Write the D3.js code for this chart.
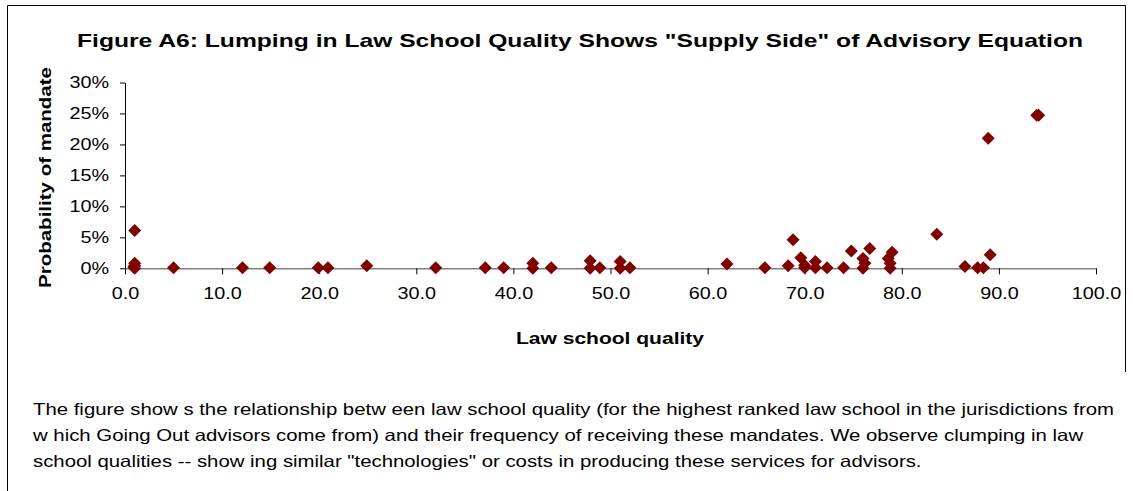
<!DOCTYPE html>
<html>
<head>
<meta charset="utf-8">
<script src="https://cdn.jsdelivr.net/npm/d3@7"></script>
<style>
  html, body { margin: 0; padding: 0; background: #fff; }
  svg { display: block; font-family: Arial, "Liberation Sans", sans-serif; }
</style>
</head>
<body>
<svg id="chart" width="1133" height="491"></svg>
<script>
// Law school quality score of each advisor jurisdiction
const quality = [
  1.0, 1.0, 1.0, 1.0, 0.9, 5.0, 12.1, 14.9, 19.9, 20.9, 24.9,
  32.0, 37.1, 39.0, 42.0, 42.0, 43.9, 47.9, 47.9, 48.9, 51.0, 51.0, 52.0,
  62.0, 65.9, 68.3, 68.8, 69.6, 70.0, 70.0, 71.1, 71.1, 72.3, 74.0, 74.8,
  76.0, 76.0, 76.2, 76.7, 78.6, 78.8, 78.8, 79.0,
  83.6, 86.5, 87.8, 88.4, 88.9, 89.1, 93.9, 94.1
];
// Probability of receiving a mandate (percent)
const probability = [
  6.1, 0.8, 0.4, 0.0, 0.2, 0.1, 0.1, 0.1, 0.1, 0.1, 0.4,
  0.1, 0.1, 0.1, 0.8, 0.0, 0.1, 1.2, 0.0, 0.1, 1.1, 0.0, 0.1,
  0.7, 0.1, 0.4, 4.6, 1.7, 0.1, 0.5, 1.1, 0.1, 0.1, 0.1, 2.8,
  1.6, 0.0, 0.8, 3.2, 1.6, 0.8, 0.0, 2.6,
  5.5, 0.3, 0.1, 0.1, 21.0, 2.2, 24.7, 24.7
];
const xTicks = [0, 10, 20, 30, 40, 50, 60, 70, 80, 90, 100];
const yTicks = [0, 5, 10, 15, 20, 25, 30];

const titleText = 'Figure A6: Lumping in Law School Quality Shows "Supply Side" of Advisory Equation';
const xTitle = "Law school quality";
const yTitle = "Probability of mandate";
const noteLines = [
  "The figure show s the relationship betw een law  school quality (for the highest ranked law  school in the jurisdictions from",
  "w hich Going Out advisors come from) and their frequency of receiving these mandates. We observe clumping in law",
  "school qualities -- show ing similar \"technologies\" or costs in producing these services for advisors."
];

const svg = d3.select("#chart");
const stretch = 1.2; // wide glyph proportions of the original export

// frame around the chart and note
svg.append("path")
  .attr("d", "M7.5,491 L7.5,5.5 L1125.5,5.5 L1125.5,372")
  .attr("fill", "none").attr("stroke", "#000").attr("stroke-width", 1);

const x = d3.scaleLinear().domain([0, 100]).range([125, 1096]);
const y = d3.scaleLinear().domain([0, 30]).range([268.3, 82.5]);

// title
svg.append("text")
  .attr("x", 77).attr("y", 47)
  .attr("font-size", 19).attr("font-weight", "bold")
  .attr("textLength", 1006).attr("lengthAdjust", "spacingAndGlyphs")
  .text(titleText);

// y axis
const yAxis = svg.append("g")
  .attr("transform", `translate(${x(0)},0)`)
  .call(d3.axisLeft(y).tickValues(yTicks).tickSize(5).tickSizeOuter(0)
    .tickFormat(d => d + "%"));
yAxis.select(".domain").attr("stroke", "#000");
yAxis.selectAll(".tick line").attr("stroke", "#000");
yAxis.selectAll(".tick text")
  .attr("x", -16 / stretch).attr("dy", "0.33em")
  .attr("transform", `scale(${stretch},1)`)
  .attr("font-size", 16.5).attr("font-family", "Arial, 'Liberation Sans', sans-serif")
  .attr("fill", "#000");

// x axis along the 0% line
const xAxis = svg.append("g")
  .attr("transform", `translate(0,${y(0)})`)
  .call(d3.axisBottom(x).tickValues(xTicks).tickSize(6).tickSizeOuter(0)
    .tickFormat(d3.format(".1f")));
xAxis.select(".domain").attr("stroke", "#808080").attr("stroke-width", 1.5);
xAxis.selectAll(".tick line").attr("stroke", "#000");
xAxis.selectAll(".tick text")
  .attr("y", 31).attr("dy", 0)
  .attr("transform", `scale(${stretch},1)`)
  .attr("font-size", 16.5).attr("font-family", "Arial, 'Liberation Sans', sans-serif")
  .attr("fill", "#000");

// axis titles
svg.append("text")
  .attr("x", 610).attr("y", 344).attr("text-anchor", "middle")
  .attr("font-size", 16).attr("font-weight", "bold")
  .attr("textLength", 188).attr("lengthAdjust", "spacingAndGlyphs")
  .text(xTitle);

svg.append("text")
  .attr("transform", "translate(51,177.5) rotate(-90)")
  .attr("text-anchor", "middle")
  .attr("font-size", 17).attr("font-weight", "bold")
  .attr("textLength", 221).attr("lengthAdjust", "spacingAndGlyphs")
  .text(yTitle);

// diamond markers
const diamond = "M0,-6.5L6.5,0L0,6.5L-6.5,0Z";
svg.append("g").selectAll("path")
  .data(quality.map((q, i) => ({ q, p: probability[i] })))
  .join("path")
  .attr("d", diamond)
  .attr("transform", d => `translate(${x(d.q)},${y(d.p)})`)
  .attr("fill", "#800000");

// explanatory note: one horizontal scale for all lines, set so the first line spans the box
const note = svg.append("g");
const lines = note.selectAll("text")
  .data(noteLines)
  .join("text")
  .attr("y", (d, i) => 415 + i * 26)
  .attr("font-size", 16.5)
  .attr("fill", "#000")
  .text(d => d);
const natural = lines.nodes()[0].getComputedTextLength();
const noteScale = 1082 / natural;
lines.attr("x", 33 / noteScale).attr("transform", `scale(${noteScale},1)`);
</script>
</body>
</html>
